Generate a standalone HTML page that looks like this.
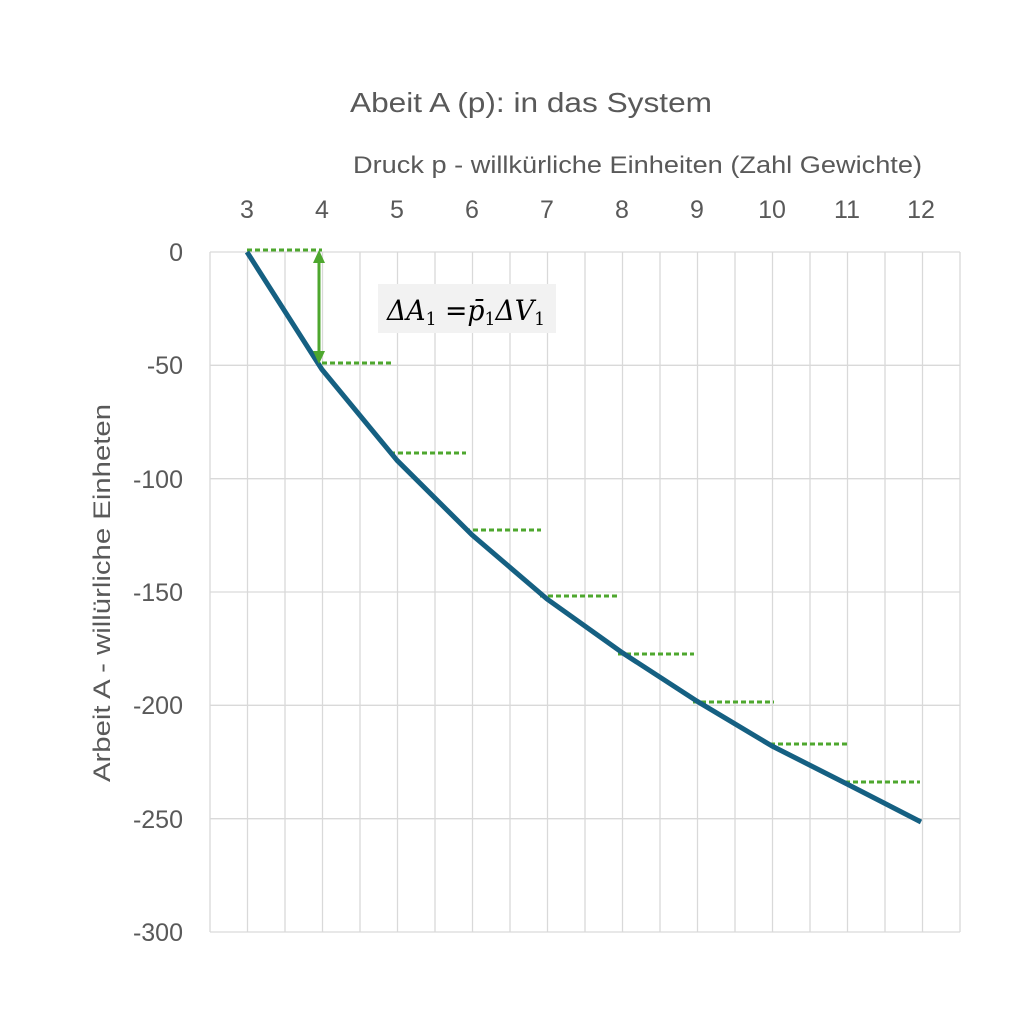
<!DOCTYPE html>
<html><head><meta charset="utf-8"><style>
body{margin:0;background:#fff}
svg text{font-family:"Liberation Sans",sans-serif;fill:#595959}
</style></head><body>
<svg width="1023" height="1008" viewBox="0 0 1023 1008" xmlns="http://www.w3.org/2000/svg">
<rect width="1023" height="1008" fill="#fff"/>
<g stroke="#d9d9d9" stroke-width="1.3">
<line x1="210" y1="252" x2="960" y2="252"/>
<line x1="210" y1="365.3" x2="960" y2="365.3"/>
<line x1="210" y1="478.7" x2="960" y2="478.7"/>
<line x1="210" y1="592" x2="960" y2="592"/>
<line x1="210" y1="705.3" x2="960" y2="705.3"/>
<line x1="210" y1="818.7" x2="960" y2="818.7"/>
<line x1="210" y1="932" x2="960" y2="932"/>
<line x1="210" y1="252" x2="210" y2="932"/><line x1="247.5" y1="252" x2="247.5" y2="932"/><line x1="285" y1="252" x2="285" y2="932"/><line x1="322.5" y1="252" x2="322.5" y2="932"/><line x1="360" y1="252" x2="360" y2="932"/><line x1="397.5" y1="252" x2="397.5" y2="932"/><line x1="435" y1="252" x2="435" y2="932"/><line x1="472.5" y1="252" x2="472.5" y2="932"/><line x1="510" y1="252" x2="510" y2="932"/><line x1="547.5" y1="252" x2="547.5" y2="932"/><line x1="585" y1="252" x2="585" y2="932"/><line x1="622.5" y1="252" x2="622.5" y2="932"/><line x1="660" y1="252" x2="660" y2="932"/><line x1="697.5" y1="252" x2="697.5" y2="932"/><line x1="735" y1="252" x2="735" y2="932"/><line x1="772.5" y1="252" x2="772.5" y2="932"/><line x1="810" y1="252" x2="810" y2="932"/><line x1="847.5" y1="252" x2="847.5" y2="932"/><line x1="885" y1="252" x2="885" y2="932"/><line x1="922.5" y1="252" x2="922.5" y2="932"/><line x1="960" y1="252" x2="960" y2="932"/>
</g>
<text x="350" y="112" font-size="28" textLength="362" lengthAdjust="spacingAndGlyphs">Abeit A (p):  in das System</text>
<text x="353" y="173" font-size="24" textLength="569" lengthAdjust="spacingAndGlyphs">Druck p - willkürliche Einheiten (Zahl Gewichte)</text>
<g font-size="25" text-anchor="middle">
<text x="247" y="218">3</text><text x="322" y="218">4</text><text x="397" y="218">5</text><text x="472" y="218">6</text><text x="547" y="218">7</text><text x="622" y="218">8</text><text x="697" y="218">9</text><text x="772" y="218">10</text><text x="847" y="218">11</text><text x="921" y="218">12</text>
</g>
<g font-size="25" text-anchor="end">
<text x="183" y="261">0</text><text x="183" y="374">-50</text><text x="183" y="488">-100</text><text x="183" y="601">-150</text><text x="183" y="714">-200</text><text x="183" y="828">-250</text><text x="183" y="941">-300</text>
</g>
<text transform="translate(110,782) rotate(-90)" font-size="24" textLength="378" lengthAdjust="spacingAndGlyphs">Arbeit A - willürliche Einheten</text>
<g stroke="#4ea72e" stroke-width="3" stroke-dasharray="5,3" fill="none">
<line x1="247" y1="250" x2="322" y2="250"/>
<line x1="322" y1="363" x2="393" y2="363"/>
<line x1="390" y1="453" x2="466" y2="453"/>
<line x1="465" y1="530" x2="541" y2="530"/>
<line x1="540" y1="596" x2="618" y2="596"/>
<line x1="618" y1="654" x2="694" y2="654"/>
<line x1="693" y1="702" x2="774" y2="702"/>
<line x1="770" y1="744" x2="848" y2="744"/>
<line x1="845" y1="782" x2="920" y2="782"/>
</g>
<polyline fill="none" stroke="#156082" stroke-width="5" stroke-linejoin="round" points="247,252 322,369.5 397,460.3 472,534.9 547,599 622,652.5 697,701.2 772,746 847,784 921,822"/>
<line x1="319" y1="260" x2="319" y2="354" stroke="#4ea72e" stroke-width="3"/>
<polygon points="319,250 313,263 325,263" fill="#4ea72e"/>
<polygon points="319,364 313,351 325,351" fill="#4ea72e"/>
<rect x="378" y="284" width="178" height="49" fill="#f2f2f2"/>
<text x="387" y="320" font-size="28" textLength="158" lengthAdjust="spacingAndGlyphs" style="font-family:'DejaVu Serif',serif;fill:#000;font-style:italic">ΔA<tspan font-size="18" dy="5" font-style="normal">1</tspan><tspan dy="-5" font-style="normal"> =</tspan>p̄<tspan font-size="18" dy="5" font-style="normal">1</tspan><tspan dy="-5">ΔV</tspan><tspan font-size="18" dy="5" font-style="normal">1</tspan></text>
</svg>
</body></html>
